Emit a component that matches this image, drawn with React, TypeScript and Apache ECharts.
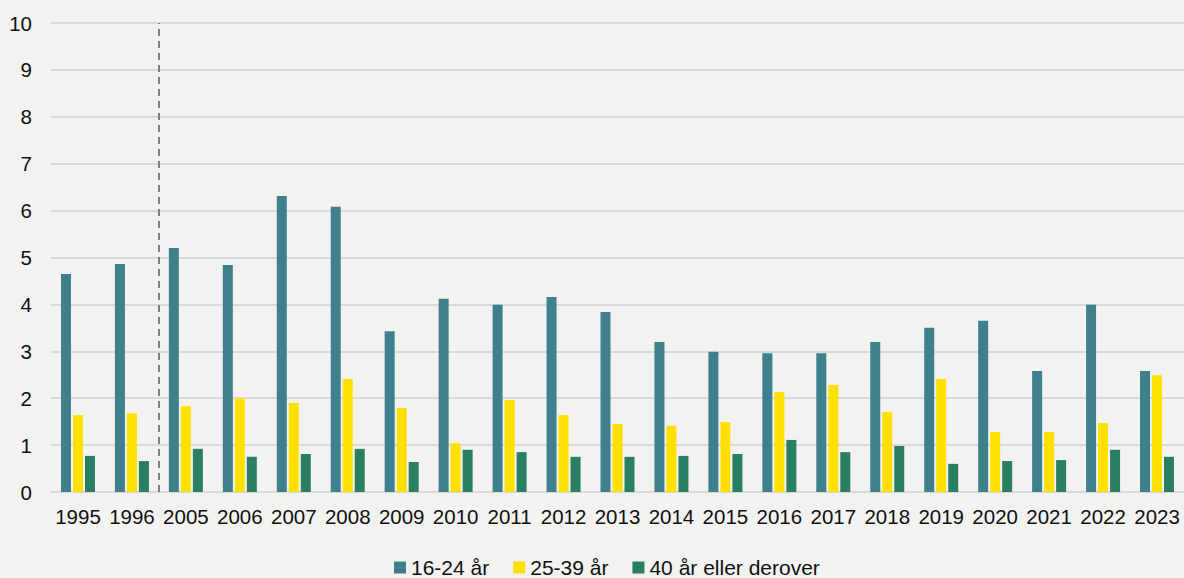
import React, { useEffect, useRef } from "react";
import * as echarts from "echarts";

const categories = ["1995","1996","2005","2006","2007","2008","2009","2010","2011","2012","2013","2014","2015","2016","2017","2018","2019","2020","2021","2022","2023"];
const age16to24 = [4.65,4.86,5.2,4.84,6.31,6.08,3.43,4.12,3.99,4.16,3.84,3.2,2.99,2.96,2.96,3.2,3.5,3.65,2.58,3.99,2.58];
const age25to39 = [1.64,1.68,1.83,2.0,1.9,2.41,1.79,1.04,1.96,1.64,1.45,1.41,1.49,2.13,2.28,1.71,2.41,1.28,1.28,1.47,2.49];
const age40plus = [0.77,0.66,0.92,0.75,0.81,0.92,0.64,0.9,0.85,0.75,0.75,0.77,0.81,1.11,0.85,0.98,0.6,0.66,0.68,0.9,0.75];
const seriesNames = ["16-24 år", "25-39 år", "40 år eller derover"];
const colors = ["#3e808c", "#ffe000", "#2a7e62"];
const breakPosition = 2;

export default function App() {
  const ref = useRef<HTMLDivElement>(null);
  useEffect(() => {
    if (!ref.current) return;
    const chart = echarts.init(ref.current, undefined, { renderer: "svg" });
    const font = "'Liberation Sans', Arial, sans-serif";
    chart.setOption({
      animation: false,
      backgroundColor: "#f2f2f0",
      color: colors,
      textStyle: { fontFamily: font },
      grid: { left: 51, right: 0, top: 23, bottom: 86, containLabel: false },
      legend: {
        bottom: 0,
        left: 394,
        padding: 0,
        itemWidth: 12,
        itemHeight: 12,
        itemGap: 24,
        icon: "rect",
        textStyle: { fontSize: 21, lineHeight: 16, color: "#111", fontFamily: font },
        data: seriesNames,
      },
      xAxis: [
        {
          type: "category",
          data: categories,
          axisLine: { show: true, lineStyle: { color: "#d9d9d9", width: 2 } },
          axisTick: { show: false },
          axisLabel: { color: "#111", fontSize: 20.5, margin: 14, interval: 0, fontFamily: font },
        },
        {
          type: "value",
          min: 0,
          max: categories.length,
          show: false,
        },
      ],
      yAxis: {
        type: "value",
        min: 0,
        max: 10,
        interval: 1,
        axisLine: { show: false },
        axisTick: { show: false },
        splitLine: { lineStyle: { color: "#d9d9d9", width: 2 } },
        axisLabel: { color: "#111", fontSize: 20.5, margin: 19, fontFamily: font },
      },
      series: [
        { name: seriesNames[0], type: "bar", data: age16to24, barWidth: 10, barGap: "20%" },
        { name: seriesNames[1], type: "bar", data: age25to39, barWidth: 10, barGap: "20%" },
        { name: seriesNames[2], type: "bar", data: age40plus, barWidth: 10, barGap: "20%" },
        {
          type: "scatter",
          xAxisIndex: 1,
          data: [],
          markLine: {
            silent: true,
            symbol: "none",
            label: { show: false },
            lineStyle: { color: "#7f7f7f", type: [7, 5], width: 2 },
            data: [{ xAxis: breakPosition }],
          },
        },
      ],
    });
    return () => chart.dispose();
  }, []);
  return <div ref={ref} style={{ position: "fixed", left: 0, top: 0, width: 1184, height: 578 }} />;
}
